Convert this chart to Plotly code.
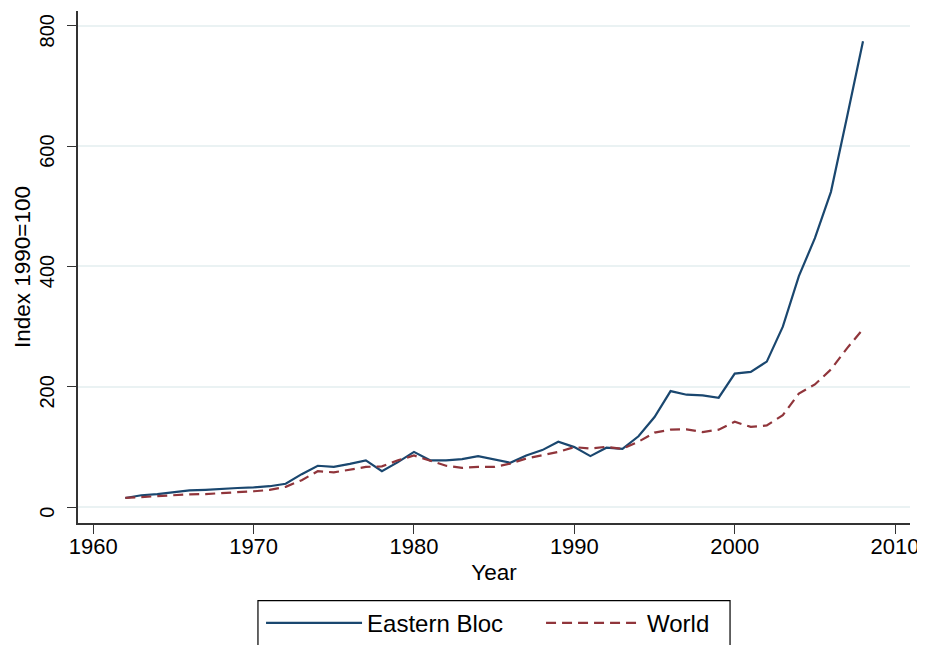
import plotly.graph_objects as go

years = list(range(1962, 2009))

eastern_bloc = [15.5, 20, 22, 25.5, 28, 29, 31, 32, 33, 35, 39, 55, 69, 67, 72, 78,
                60, 75, 92, 78, 78, 80, 85, 80, 74, 86, 95, 109, 100, 85, 99, 97,
                118, 150, 193, 187, 186, 182, 222, 225, 242, 300, 384, 447, 524, 648, 774]

world = [15.5, 17, 18.7, 20.4, 21.5, 22, 23.2, 25, 26.6, 28.8, 34, 45, 60, 58, 63, 67,
         68, 78, 86, 77, 69, 65.5, 67, 67, 72.5, 81, 87, 92, 100, 97.5, 100.5, 97,
         109, 124, 129, 129.5, 125, 129, 142, 133.5, 136, 153, 189, 204, 229, 264, 296]

x_ticks = [1960, 1970, 1980, 1990, 2000, 2010]
y_ticks = [0, 200, 400, 600, 800]

FONT = "Liberation Sans, Arial, Helvetica, sans-serif"
NAVY = "#1a476f"
MAROON = "#90353b"
GRID = "#eaf2f3"
AXIS = "#333333"

fig = go.Figure()
fig.add_trace(go.Scatter(x=years, y=eastern_bloc, mode="lines", name="Eastern Bloc",
                         line=dict(color=NAVY, width=2.2)))
fig.add_trace(go.Scatter(x=years, y=world, mode="lines", name="World",
                         line=dict(color=MAROON, width=2.2, dash="10px,6px")))

fig.update_layout(
    width=925, height=645,
    margin=dict(l=70, r=23, t=3, b=130, autoexpand=False),
    paper_bgcolor="white", plot_bgcolor="white",
    font=dict(family=FONT, size=22, color="black"),
    showlegend=True,
    legend=dict(orientation="h", x=0.22, xanchor="left",
                yref="container", y=0.081, yanchor="top",
                borderwidth=0, bgcolor="rgba(0,0,0,0)",
                font=dict(size=24), itemwidth=96, entrywidth=169),
    xaxis=dict(range=[1959.05, 2010.93], tickvals=x_ticks, automargin=False,
               showline=True, linecolor=AXIS, linewidth=1.5,
               ticks="outside", ticklen=9, tickwidth=1.2, tickcolor=AXIS,
               showgrid=False, zeroline=False, ticklabeloverflow="allow",
               tickfont=dict(size=22), ticklabelstandoff=-6,
               title=dict(text="Year", font=dict(size=22.5), standoff=6)),
    yaxis=dict(range=[-26.1, 824.4], tickvals=y_ticks, automargin=False,
               showline=True, linecolor=AXIS, linewidth=1.5,
               ticks="outside", ticklen=9, tickwidth=1.2, tickcolor=AXIS,
               showgrid=True, gridcolor=GRID, gridwidth=1.5, zeroline=False,
               tickangle=-90, tickfont=dict(size=20), ticklabelstandoff=5,
               ticklabelshift=8, ticklabeloverflow="allow"),
    annotations=[dict(text="Index 1990=100", textangle=-90, showarrow=False,
                      xref="paper", yref="paper", x=0, y=0.5,
                      xanchor="center", yanchor="middle", xshift=-56,
                      font=dict(size=22.5))],
    shapes=[dict(type="rect", xref="paper", yref="paper",
                 x0=0.2163, x1=0.7837, y0=-0.35, y1=-0.1518,
                 line=dict(color="black", width=1.2), fillcolor="rgba(0,0,0,0)")],
)

fig.write_html("out.html")
